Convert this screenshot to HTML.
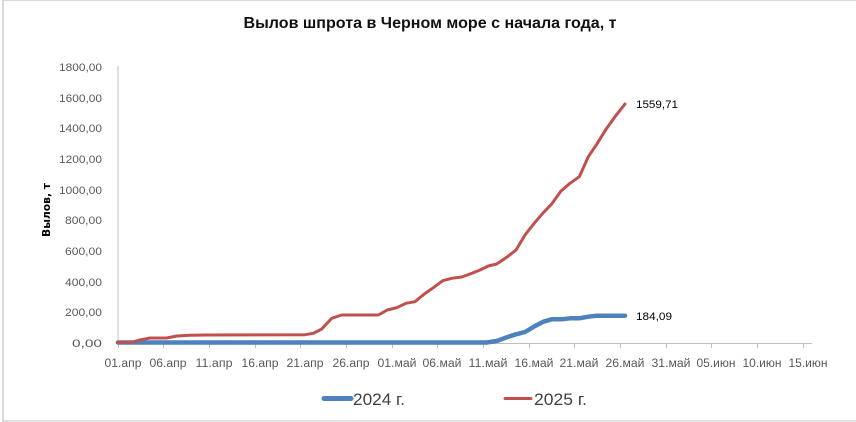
<!DOCTYPE html>
<html>
<head>
<meta charset="utf-8">
<style>
html,body{margin:0;padding:0;background:#fff;}
body{width:856px;height:422px;overflow:hidden;}
svg{display:block;}
</style>
</head>
<body>
<svg width="856" height="422" viewBox="0 0 856 422" xmlns="http://www.w3.org/2000/svg">
  <rect x="0" y="0" width="856" height="422" fill="#fff"/>
  <!-- outer border -->
  <line x1="2" y1="0.5" x2="856" y2="0.5" stroke="#d9d9d9" stroke-width="1"/>
  <line x1="3" y1="0" x2="3" y2="422" stroke="#d9d9d9" stroke-width="2"/>
  <line x1="2" y1="421" x2="856" y2="421" stroke="#d9d9d9" stroke-width="1.5"/>

  <!-- title -->
  <text x="430" y="28" text-anchor="middle" font-family="Liberation Sans, sans-serif" font-size="16" font-weight="bold" fill="#111" textLength="373" lengthAdjust="spacingAndGlyphs">Вылов шпрота в Черном море с начала года, т</text>

  <!-- y axis title -->
  <text transform="translate(50,210) rotate(-90)" text-anchor="middle" font-family="DejaVu Sans, sans-serif" font-size="11" font-weight="bold" fill="#000" textLength="54" lengthAdjust="spacingAndGlyphs">Вылов, т</text>

  <!-- axes -->
  <line x1="118" y1="66" x2="118" y2="343" stroke="#bfbfbf" stroke-width="1"/>
  <line x1="118" y1="343.5" x2="812" y2="343.5" stroke="#bfbfbf" stroke-width="1"/>
  <g stroke="#bfbfbf" stroke-width="1">
    <line x1="118.5" y1="343" x2="118.5" y2="348"/>
    <line x1="163.5" y1="343" x2="163.5" y2="348"/>
    <line x1="209.5" y1="343" x2="209.5" y2="348"/>
    <line x1="255.5" y1="343" x2="255.5" y2="348"/>
    <line x1="300.5" y1="343" x2="300.5" y2="348"/>
    <line x1="346.5" y1="343" x2="346.5" y2="348"/>
    <line x1="392.5" y1="343" x2="392.5" y2="348"/>
    <line x1="437.5" y1="343" x2="437.5" y2="348"/>
    <line x1="483.5" y1="343" x2="483.5" y2="348"/>
    <line x1="529.5" y1="343" x2="529.5" y2="348"/>
    <line x1="574.5" y1="343" x2="574.5" y2="348"/>
    <line x1="620.5" y1="343" x2="620.5" y2="348"/>
    <line x1="666.5" y1="343" x2="666.5" y2="348"/>
    <line x1="711.5" y1="343" x2="711.5" y2="348"/>
    <line x1="757.5" y1="343" x2="757.5" y2="348"/>
    <line x1="803.5" y1="343" x2="803.5" y2="348"/>
  </g>

  <!-- y tick labels -->
  <g font-family="Liberation Sans, sans-serif" font-size="11" fill="#595959" text-anchor="end">
    <text x="102" y="71" textLength="43" lengthAdjust="spacingAndGlyphs">1800,00</text>
    <text x="102" y="102" textLength="43" lengthAdjust="spacingAndGlyphs">1600,00</text>
    <text x="102" y="132" textLength="43" lengthAdjust="spacingAndGlyphs">1400,00</text>
    <text x="102" y="163" textLength="43" lengthAdjust="spacingAndGlyphs">1200,00</text>
    <text x="102" y="194" textLength="43" lengthAdjust="spacingAndGlyphs">1000,00</text>
    <text x="102" y="224" textLength="37" lengthAdjust="spacingAndGlyphs">800,00</text>
    <text x="102" y="255" textLength="37" lengthAdjust="spacingAndGlyphs">600,00</text>
    <text x="102" y="286" textLength="37" lengthAdjust="spacingAndGlyphs">400,00</text>
    <text x="102" y="316" textLength="37" lengthAdjust="spacingAndGlyphs">200,00</text>
    <text x="102" y="347" textLength="30" lengthAdjust="spacingAndGlyphs">0,00</text>
  </g>

  <!-- x tick labels -->
  <g font-family="Liberation Sans, sans-serif" font-size="11.5" fill="#595959" text-anchor="middle" lengthAdjust="spacingAndGlyphs">
    <text x="123" y="367" textLength="37" lengthAdjust="spacingAndGlyphs">01.апр</text>
    <text x="168" y="367" textLength="37" lengthAdjust="spacingAndGlyphs">06.апр</text>
    <text x="214" y="367" textLength="37" lengthAdjust="spacingAndGlyphs">11.апр</text>
    <text x="260" y="367" textLength="37" lengthAdjust="spacingAndGlyphs">16.апр</text>
    <text x="305" y="367" textLength="37" lengthAdjust="spacingAndGlyphs">21.апр</text>
    <text x="351" y="367" textLength="37" lengthAdjust="spacingAndGlyphs">26.апр</text>
    <text x="397" y="367" textLength="39" lengthAdjust="spacingAndGlyphs">01.май</text>
    <text x="442" y="367" textLength="39" lengthAdjust="spacingAndGlyphs">06.май</text>
    <text x="488" y="367" textLength="39" lengthAdjust="spacingAndGlyphs">11.май</text>
    <text x="534" y="367" textLength="39" lengthAdjust="spacingAndGlyphs">16.май</text>
    <text x="579" y="367" textLength="39" lengthAdjust="spacingAndGlyphs">21.май</text>
    <text x="625" y="367" textLength="39" lengthAdjust="spacingAndGlyphs">26.май</text>
    <text x="671" y="367" textLength="39" lengthAdjust="spacingAndGlyphs">31.май</text>
    <text x="716" y="367" textLength="39" lengthAdjust="spacingAndGlyphs">05.июн</text>
    <text x="762" y="367" textLength="39" lengthAdjust="spacingAndGlyphs">10.июн</text>
    <text x="808" y="367" textLength="39" lengthAdjust="spacingAndGlyphs">15.июн</text>
  </g>

  <!-- 2024 series -->
  <polyline fill="none" stroke="#4f81bd" stroke-width="4.5" stroke-linejoin="round" stroke-linecap="round"
    points="118,342.5 486.7,342.5 496.7,341 506.7,337.3 516,334.3 525,332 535,326 543.3,321.7 551.7,319.3 561.7,319.3 570,318.3 579.3,318.3 588.3,316.7 596.7,315.7 625,315.7"/>

  <!-- 2025 series -->
  <polyline fill="none" stroke="#c0504d" stroke-width="3" stroke-linejoin="round" stroke-linecap="round"
    points="117.5,342.3 131.7,342.3 140,340 150,338 166.7,338 176.7,336 190,335.3 206.7,335 305,334.7 313.3,333.3 321.7,329 331.7,318.3 341.7,315 378.3,315 387.3,310 396.7,307.7 406,303.3 415,301.7 424.3,294 433.3,287.7 442.7,280.7 451.7,278.3 461.7,277 470,274 480,270 488.3,266 496.7,264 506.7,257.3 516,250 525,235 535,222.3 543.3,212.7 551.7,204 561,191 570,183.3 579.3,176.7 588.3,156.7 596.7,144.3 606,129.3 615,116.7 625,104"/>

  <!-- data labels -->
  <g font-family="Liberation Sans, sans-serif" font-size="11" fill="#000">
    <text x="636" y="108" textLength="42" lengthAdjust="spacingAndGlyphs">1559,71</text>
    <text x="636" y="320" textLength="36" lengthAdjust="spacingAndGlyphs">184,09</text>
  </g>

  <!-- legend -->
  <line x1="324" y1="398.5" x2="351" y2="398.5" stroke="#4f81bd" stroke-width="5" stroke-linecap="round"/>
  <text x="353" y="405" font-family="Liberation Sans, sans-serif" font-size="17" fill="#404040" textLength="52" lengthAdjust="spacingAndGlyphs">2024 г.</text>
  <line x1="505" y1="398.5" x2="531" y2="398.5" stroke="#c0504d" stroke-width="3" stroke-linecap="round"/>
  <text x="534" y="405" font-family="Liberation Sans, sans-serif" font-size="17" fill="#404040" textLength="53" lengthAdjust="spacingAndGlyphs">2025 г.</text>
</svg>
</body>
</html>
